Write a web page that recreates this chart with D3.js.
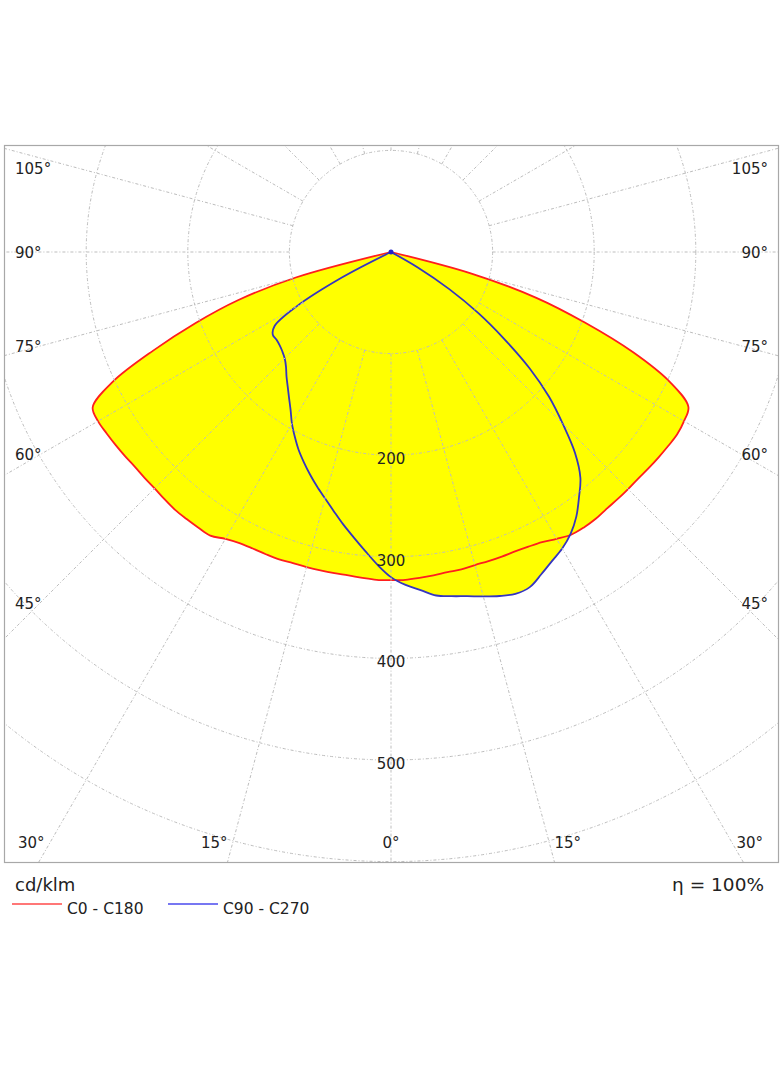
<!DOCTYPE html>
<html>
<head>
<meta charset="utf-8">
<title>Polar intensity diagram</title>
<script src="https://d3js.org/d3.v7.min.js"></script>
<style>
  body { margin: 0; background: #fff; }
  text { font-family: "DejaVu Sans", Verdana, sans-serif; fill: #222; }
</style>
</head>
<body>
<div id="chart"></div>
<script>
// gamma angles, degrees from nadir
const gamma = [0, 2.5, 5, 7.5, 10, 12.5, 15, 17.5, 20, 22.5, 25, 27.5, 30, 32.5, 35, 37.5,
               40, 42.5, 45, 47.5, 50, 52.5, 55, 57.5, 60, 62.5, 65, 67.5, 70, 72.5, 75, 77.5,
               80, 82.5, 85, 87.5, 90];

// cd/klm per plane
const c0   = [323, 323, 322, 321, 320, 320, 319, 319, 319, 319, 320, 322, 326, 330, 331, 331,
              330, 330, 330, 330, 331, 332, 333, 334, 333, 330, 303, 258, 203, 150, 82, 0,
              0, 0, 0, 0, 0];
const c180 = [323, 323, 322, 321, 321, 321, 321, 321, 322, 322, 322, 323, 326, 331, 331, 331,
              331, 330, 329, 329, 329, 330, 331, 332, 333, 331, 302, 253, 205, 158, 97, 0,
              0, 0, 0, 0, 0];
const c90  = [320, 328, 334, 341, 344, 347, 351, 355, 358, 357, 350, 343, 337, 329, 318, 304,
              290, 268, 239, 211, 178, 140, 105, 68, 30, 0, 0, 0, 0, 0, 0, 0,
              0, 0, 0, 0, 0];
const c270 = [320, 308, 295, 283, 272, 261, 251, 242, 233, 224, 215, 205, 195, 184, 175, 167,
              160, 153, 148, 145, 143, 142, 142, 136, 108, 55, 0, 0, 0, 0, 0, 0,
              0, 0, 0, 0, 0];

const rings = [100, 200, 300, 400, 500, 600];
const ringLabels = [200, 300, 400, 500];
const spokes = [0, 15, 30, 45, 60, 75, 90, 105, 120, 135, 150, 165, 180];
const sideLabels = [45, 60, 75, 90, 105];
const bottomLabels = [0, 15, 30];

const W = 784, H = 1066;
const frame = {x0: 5, y0: 145, x1: 779, y1: 862};
const cx = 391, cy = 252;
const rScale = d3.scaleLinear().domain([0, 600]).range([0, 609.6]);
const rad = d => d * Math.PI / 180;

const svg = d3.select("#chart").append("svg")
    .attr("width", W)
    .attr("height", H);

svg.append("defs").append("clipPath")
    .attr("id", "frameClip")
  .append("rect")
    .attr("x", frame.x0).attr("y", frame.y0)
    .attr("width", frame.x1 - frame.x0).attr("height", frame.y1 - frame.y0);

// one closed loop: right half from 90 down to 0, then left half back up
function planePoints(right, left) {
    let pts = [];
    for (let i = gamma.length - 1; i >= 0; i--) pts.push({a: Math.PI - rad(gamma[i]), v: right[i]});
    for (let i = 1; i < gamma.length; i++) pts.push({a: Math.PI + rad(gamma[i]), v: left[i]});
    return pts;
}

const radial = d3.lineRadial()
    .angle(d => d.a)
    .radius(d => rScale(d.v))
    .curve(d3.curveCatmullRom.alpha(0.5));

const redPts = planePoints(c0, c180);
const bluePts = planePoints(c90, c270);

const plot = svg.append("g").attr("transform", "translate(" + cx + "," + cy + ")");

// yellow fill (union of both planes)
plot.append("path").attr("d", radial(redPts)).attr("fill", "#ffff00");
plot.append("path").attr("d", radial(bluePts)).attr("fill", "#ffff00");

// grid
const grid = svg.append("g")
    .attr("clip-path", "url(#frameClip)")
  .append("g")
    .attr("transform", "translate(" + cx + "," + cy + ")")
    .attr("fill", "none")
    .attr("stroke", "#bdbdbd")
    .attr("stroke-width", 1)
    .attr("stroke-dasharray", "3,2,1,2");

grid.selectAll("circle")
    .data(rings)
    .enter()
    .append("circle")
    .attr("r", d => rScale(d));

let spokeData = [];
spokes.forEach(g => {
    spokeData.push({g: g, s: 1});
    if (g !== 0 && g !== 180) spokeData.push({g: g, s: -1});
});
grid.selectAll("line")
    .data(spokeData)
    .enter()
    .append("line")
    .attr("x1", d => d.s * rScale(100) * Math.sin(rad(d.g)))
    .attr("y1", d => rScale(100) * Math.cos(rad(d.g)))
    .attr("x2", d => d.s * rScale(900) * Math.sin(rad(d.g)))
    .attr("y2", d => rScale(900) * Math.cos(rad(d.g)));

// curves
plot.append("path")
    .attr("d", radial(redPts))
    .attr("fill", "none")
    .attr("stroke", "#ff1e1e")
    .attr("stroke-width", 1.8)
    .attr("stroke-linejoin", "round");

plot.append("path")
    .attr("d", radial(bluePts))
    .attr("fill", "none")
    .attr("stroke", "#3535c0")
    .attr("stroke-width", 1.8)
    .attr("stroke-linejoin", "round");

plot.append("circle").attr("r", 2.5).attr("fill", "#2222cc");

// frame
svg.append("rect")
    .attr("x", frame.x0 - 0.5).attr("y", frame.y0 + 0.5)
    .attr("width", frame.x1 - frame.x0).attr("height", frame.y1 - frame.y0)
    .attr("fill", "none")
    .attr("stroke", "#a8a8a8")
    .attr("stroke-width", 1.2);

// intensity labels along nadir
svg.selectAll(".ringlabel")
    .data(ringLabels)
    .enter()
    .append("text")
    .attr("class", "ringlabel")
    .attr("x", cx)
    .attr("y", d => cy + rScale(d) + 9)
    .attr("text-anchor", "middle")
    .attr("font-size", "15px")
    .text(d => d);

// angle labels on the sides
const labelDx = cx - frame.x0 - 35;
sideLabels.forEach(g => {
    let yc = cy + labelDx * Math.cos(rad(g)) / Math.sin(rad(g));
    yc = Math.max(yc, frame.y0 + 23);
    svg.append("text")
        .attr("x", frame.x0 + 10).attr("y", yc + 5.5)
        .attr("font-size", "15px")
        .text(g + "°");
    svg.append("text")
        .attr("x", frame.x1 - 11).attr("y", yc + 5.5)
        .attr("text-anchor", "end")
        .attr("font-size", "15px")
        .text(g + "°");
});

// angle labels along the bottom
const by = frame.y1 - 14.5;
bottomLabels.forEach(g => {
    const off = (frame.y1 - cy) * Math.tan(rad(g));
    if (g === 0) {
        svg.append("text").attr("x", cx).attr("y", by)
            .attr("text-anchor", "middle").attr("font-size", "15px").text(g + "°");
        return;
    }
    const tl = svg.append("text").attr("y", by).attr("font-size", "15px")
        .attr("text-anchor", "end").text(g + "°");
    const w = tl.node().getComputedTextLength();
    tl.attr("x", Math.max(cx - off, frame.x0 + 13 + w));
    const tr = svg.append("text").attr("y", by).attr("font-size", "15px").text(g + "°");
    tr.attr("x", Math.min(cx + off, frame.x1 - 16 - w));
});

// legend
svg.append("text").attr("x", 15).attr("y", 891).attr("font-size", "18px").text("cd/klm");
svg.append("text").attr("x", 764).attr("y", 891).attr("text-anchor", "end")
    .attr("font-size", "18.5px").text("η = 100%");

const legend = [
    {name: "C0 - C180", color: "#ff4a4a", x: 12},
    {name: "C90 - C270", color: "#4a4aee", x: 168}
];
legend.forEach(d => {
    svg.append("line")
        .attr("x1", d.x).attr("x2", d.x + 50)
        .attr("y1", 904).attr("y2", 904)
        .attr("stroke", d.color).attr("stroke-width", 1.5);
    svg.append("text")
        .attr("x", d.x + 55).attr("y", 914)
        .attr("font-size", "15.5px")
        .text(d.name);
});
</script>
</body>
</html>
